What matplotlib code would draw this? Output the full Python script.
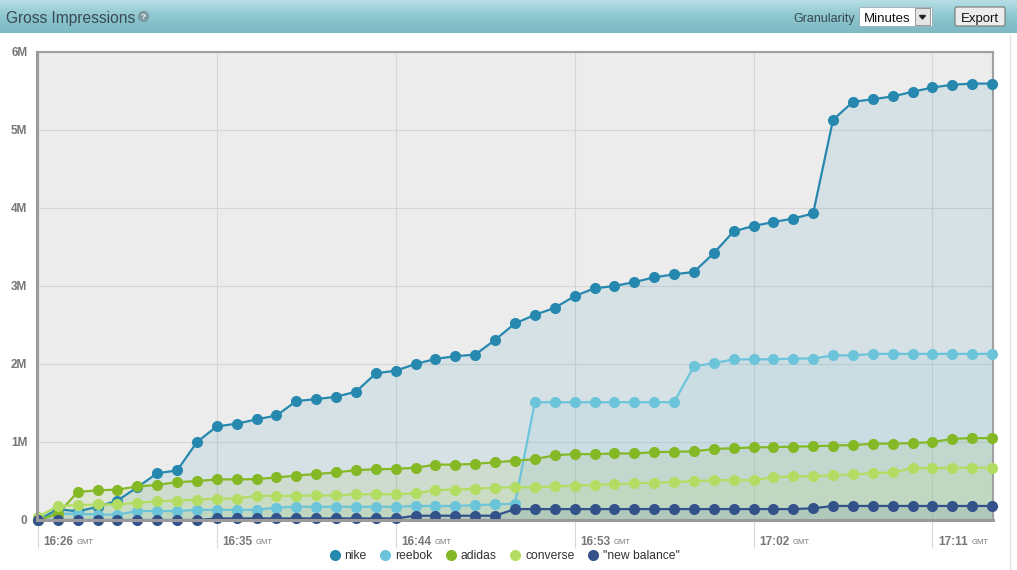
import matplotlib
matplotlib.use("Agg")
import matplotlib.pyplot as plt
import numpy as np
from matplotlib.patches import FancyBboxPatch, Rectangle, Circle
from matplotlib.colors import LinearSegmentedColormap

plt.rcParams['font.family'] = ['Liberation Sans', 'DejaVu Sans']

# ---------------- data ----------------
start_minute = 16 * 60 + 26
minutes = list(range(start_minute, start_minute + 49))   # 16:26 .. 17:14

nike = [0.00, 0.14, 0.11, 0.17, 0.25, 0.42, 0.60, 0.635, 1.00, 1.20,
        1.235, 1.29, 1.34, 1.525, 1.55, 1.58, 1.645, 1.88, 1.915, 2.00,
        2.065, 2.10, 2.12, 2.31, 2.52, 2.63, 2.72, 2.87, 2.97, 3.00,
        3.05, 3.11, 3.15, 3.18, 3.42, 3.70, 3.77, 3.82, 3.865, 3.93,
        5.13, 5.36, 5.395, 5.43, 5.49, 5.545, 5.58, 5.595, 5.595]
reebok = [0.00, 0.08, 0.08, 0.07, 0.07, 0.115, 0.115, 0.115, 0.13, 0.13,
          0.13, 0.13, 0.16, 0.17, 0.17, 0.17, 0.17, 0.17, 0.17, 0.18,
          0.18, 0.18, 0.19, 0.20, 0.21, 1.51, 1.51, 1.51, 1.51, 1.51,
          1.51, 1.51, 1.51, 1.97, 2.01, 2.06, 2.06, 2.06, 2.07, 2.07,
          2.11, 2.11, 2.13, 2.13, 2.13, 2.13, 2.13, 2.13, 2.13]
adidas = [0.00, 0.08, 0.36, 0.38, 0.39, 0.43, 0.45, 0.485, 0.50, 0.52,
          0.52, 0.525, 0.545, 0.57, 0.59, 0.61, 0.64, 0.65, 0.655, 0.67,
          0.71, 0.71, 0.72, 0.74, 0.76, 0.78, 0.83, 0.845, 0.845, 0.853,
          0.853, 0.87, 0.875, 0.88, 0.91, 0.92, 0.93, 0.935, 0.94, 0.945,
          0.955, 0.96, 0.977, 0.98, 0.985, 1.00, 1.04, 1.05, 1.05]
converse = [0.04, 0.18, 0.19, 0.20, 0.20, 0.22, 0.24, 0.25, 0.26, 0.275,
            0.275, 0.31, 0.31, 0.31, 0.315, 0.315, 0.33, 0.33, 0.33, 0.34,
            0.385, 0.39, 0.40, 0.415, 0.42, 0.42, 0.43, 0.44, 0.45, 0.46,
            0.47, 0.48, 0.485, 0.50, 0.51, 0.51, 0.51, 0.55, 0.56, 0.56,
            0.575, 0.585, 0.60, 0.61, 0.665, 0.665, 0.67, 0.67, 0.67]
new_balance = [0.00, 0.00, 0.00, 0.00, 0.00, 0.00, 0.00, 0.00, 0.00, 0.02,
               0.02, 0.02, 0.02, 0.02, 0.02, 0.02, 0.02, 0.02, 0.02, 0.055,
               0.055, 0.055, 0.055, 0.055, 0.14, 0.14, 0.14, 0.14, 0.14, 0.14,
               0.14, 0.14, 0.14, 0.14, 0.14, 0.14, 0.14, 0.14, 0.14, 0.15,
               0.18, 0.18, 0.18, 0.18, 0.18, 0.18, 0.18, 0.18, 0.18]

series_names = ['nike', 'reebok', 'adidas', 'converse', '"new balance"']
series_values = [nike, reebok, adidas, converse, new_balance]
series_colors = ['#2688ae', '#6cc4da', '#85b825', '#b3dd62', '#34528a']

x_tick_minutes = [16 * 60 + 26, 16 * 60 + 35, 16 * 60 + 44, 16 * 60 + 53,
                  17 * 60 + 2, 17 * 60 + 11]
y_ticks = [0, 1, 2, 3, 4, 5, 6]
y_tick_labels = ['0', '1M', '2M', '3M', '4M', '5M', '6M']

# ---------------- figure ----------------
W, H = 1017, 570
fig = plt.figure(figsize=(W / 100, H / 100), dpi=100, facecolor='white')

# header bar
hdr_h = 33
hax = fig.add_axes([0, 1 - hdr_h / H, 1, hdr_h / H])
cmap = LinearSegmentedColormap.from_list('hdr', ['#b7dee5', '#8cc6cf', '#7db9c4'])
hax.imshow(np.linspace(0, 1, 64).reshape(-1, 1), aspect='auto', cmap=cmap,
           extent=[0, W, 0, hdr_h])
hax.set_xlim(0, W)
hax.set_ylim(0, hdr_h)
hax.axis('off')
hax.text(6, hdr_h - 17, 'Gross Impressions', fontsize=11.2, color='#3a4a50',
         va='center_baseline', ha='left')
hax.add_patch(Circle((143.5, hdr_h - 16.5), 5, color='#7e9aa2'))
hax.text(143.5, hdr_h - 16.5, '?', fontsize=6, color='white', ha='center',
         va='center_baseline', fontweight='bold')
hax.text(855, hdr_h - 17.5, 'Granularity', fontsize=9, color='#3a4a50',
         ha='right', va='center_baseline')
hax.add_patch(Rectangle((859, hdr_h - 26), 73, 19, facecolor='white',
                        edgecolor='#9ab', lw=0.6))
hax.text(864, hdr_h - 17.5, 'Minutes', fontsize=9.5, color='#111',
         ha='left', va='center_baseline')
hax.add_patch(Rectangle((915, hdr_h - 25), 15, 17, facecolor='#e4e4e4',
                        edgecolor='#888', lw=0.6))
hax.fill([919.5, 925.5, 922.5], [hdr_h - 15.5, hdr_h - 15.5, hdr_h - 19], color='#222')
hax.add_patch(FancyBboxPatch((955, hdr_h - 26), 50, 19,
                             boxstyle='round,pad=0,rounding_size=2',
                             facecolor='#ececec', edgecolor='#777', lw=0.8))
hax.text(980, hdr_h - 17.5, 'Export', fontsize=9.5, color='#111',
         ha='center', va='center_baseline')

# thin divider at right edge
fig.add_artist(plt.Line2D([1010 / W, 1010 / W], [0, 1 - (hdr_h + 2) / H],
                          color='#e2e2e2', lw=1))

# main axes
left, right, top, bottom = 37, 993, 52, 520
ax = fig.add_axes([left / W, (H - bottom) / H, (right - left) / W, (bottom - top) / H])
ax.set_facecolor('#ececec')

x = np.array(minutes)
for name, vals, col in zip(series_names, series_values, series_colors):
    v = np.array(vals)
    ax.fill_between(x, 0, v, color=col, alpha=0.11, lw=0, zorder=2)
for name, vals, col in zip(series_names, series_values, series_colors):
    ax.plot(x, vals, color=col, lw=1.6, marker='o', markersize=8,
            markeredgewidth=0, label=name, zorder=3, clip_on=False)

ax.set_xlim(minutes[0] - 0.05, minutes[-1] + 0.05)
ax.set_ylim(0, 6)
ax.set_yticks(y_ticks)
ax.set_yticklabels(y_tick_labels)
ax.tick_params(axis='y', length=0, pad=7, labelsize=8.5, labelcolor='#777')
for lab in ax.get_yticklabels():
    lab.set_fontweight('bold')

ax.set_xticks(x_tick_minutes)
ax.set_xticklabels([])
ax.tick_params(axis='x', direction='out', length=20, width=0.8, color='#d8d8d8')

ax.grid(True, color='#d6d6d6', lw=0.8, zorder=1)
ax.set_axisbelow(True)

for s in ['top', 'right']:
    ax.spines[s].set_color('#a0a0a0')
    ax.spines[s].set_linewidth(1.5)
for s in ['left', 'bottom']:
    ax.spines[s].set_color('#9a9a9a')
    ax.spines[s].set_linewidth(2.2)
    ax.spines[s].set_zorder(4)

trans = ax.get_xaxis_transform()
for m in x_tick_minutes:
    lbl = f'{m // 60}:{m % 60:02d}'
    t = ax.annotate(lbl, xy=(m, 0), xycoords=trans, xytext=(4, -16),
                    textcoords='offset points', fontsize=8.5, fontweight='bold',
                    color='#777', ha='left', va='center')
    ax.annotate('GMT', xy=(1, 0.5), xycoords=t, xytext=(2.5, -0.3),
                textcoords='offset points', fontsize=5.5, color='#777',
                ha='left', va='center')

leg = fig.legend(loc='center', bbox_to_anchor=(0.497, (H - 556) / H), ncol=5,
                 frameon=False, fontsize=8.7, handlelength=0.6,
                 handletextpad=0.5, columnspacing=1.25, markerscale=1.0)
for h in leg.legend_handles:
    h.set_linestyle('none')
for t in leg.get_texts():
    t.set_color('#333')

fig.savefig('out.png', dpi=100, facecolor='white')
